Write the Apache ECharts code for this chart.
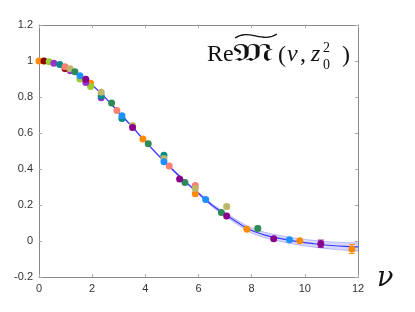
<!DOCTYPE html>
<html><head><meta charset="utf-8">
<script src="https://cdn.jsdelivr.net/npm/echarts@6/dist/echarts.min.js"></script>
<style>html,body{margin:0;padding:0;background:#fff}#c{width:415px;height:312px}</style>
</head><body><div id="c"></div>
<script>
// Fit curve (central) and band half-width
const curveNu = [0,0.5,1,1.5,2,2.5,3,3.5,4,4.5,5,5.5,6,6.5,7,7.5,8,8.5,9,9.5,10,10.5,11,11.5,12];
const curveVal = [1.0,0.99,0.962,0.92,0.866,0.795,0.715,0.635,0.553,0.474,0.4,0.33,0.265,0.2,0.148,0.1,0.058,0.033,0.016,0.002,-0.009,-0.018,-0.025,-0.03,-0.033];
const curveErr = [0,0.001,0.002,0.002,0.003,0.003,0.003,0.004,0.004,0.004,0.005,0.005,0.006,0.008,0.01,0.012,0.014,0.015,0.016,0.017,0.018,0.019,0.02,0.021,0.022];

// Data points per colour group: [nu, value, error]
const orange = [[0,1.0,0.003],[1.94,0.876,0.004],[3.91,0.566,0.004],[5.88,0.263,0.005],[7.82,0.065,0.008],[9.81,0.002,0.01],[11.77,-0.045,0.025]];
const darkred = [[0.19,1.0,0.002],[0.98,0.959,0.003]];
const yellowgreen = [[0.38,0.996,0.002],[1.54,0.90,0.004],[1.94,0.859,0.004]];
const violet = [[0.56,0.987,0.002],[1.18,0.946,0.003],[1.76,0.88,0.004],[2.34,0.796,0.004]];
const teal = [[0.78,0.981,0.003],[2.34,0.805,0.004],[3.12,0.681,0.005],[4.70,0.477,0.006]];
const salmon = [[0.98,0.968,0.003],[2.93,0.725,0.004],[4.90,0.417,0.005],[5.88,0.308,0.007]];
const khaki = [[1.17,0.957,0.003],[2.34,0.826,0.004],[3.52,0.642,0.005],[4.70,0.458,0.006],[5.88,0.291,0.008],[7.06,0.191,0.012]];
const seagreen = [[1.35,0.94,0.003],[2.73,0.766,0.004],[4.11,0.54,0.005],[5.49,0.325,0.006],[6.86,0.158,0.007],[8.23,0.07,0.012]];
const dodger = [[1.54,0.918,0.003],[3.12,0.696,0.005],[4.70,0.44,0.006],[6.27,0.23,0.006],[9.42,0.007,0.01]];
const magenta = [[1.76,0.898,0.004],[3.52,0.631,0.005],[5.29,0.345,0.006],[7.06,0.139,0.008],[8.83,0.013,0.008],[10.6,-0.015,0.02]];

const xTicks = [0,2,4,6,8,10,12];
const yTicks = [-0.2,0,0.2,0.4,0.6,0.8,1,1.2];

const groups = [
  [orange,'#ff8c00'],[darkred,'#8b0000'],[yellowgreen,'#9acd32'],[violet,'#9932cc'],
  [teal,'#008b8b'],[salmon,'#fa8072'],[khaki,'#bdb76b'],[seagreen,'#2e8b57'],
  [dodger,'#1e90ff'],[magenta,'#8b008b']
];

const chart = echarts.init(document.getElementById('c'), null, {renderer:'canvas'});

const series = [];
series.push({
  type:'custom', xAxisIndex:0, yAxisIndex:0, silent:true, z:1,
  data:[0],
  renderItem:function(params, api){
    const up=[], lo=[];
    for(let i=0;i<curveNu.length;i++){
      up.push(api.coord([curveNu[i], curveVal[i]+curveErr[i]]));
      lo.push(api.coord([curveNu[i], curveVal[i]-curveErr[i]]));
    }
    const poly = up.concat(lo.slice().reverse());
    return {type:'group', children:[
      {type:'polygon', shape:{points:poly, smooth:0.3}, style:{fill:'rgba(120,120,255,0.28)', stroke:null}},
      {type:'polyline', shape:{points:up, smooth:0.3}, style:{stroke:'rgba(110,110,255,0.5)', lineWidth:0.8, fill:null}},
      {type:'polyline', shape:{points:lo, smooth:0.3}, style:{stroke:'rgba(110,110,255,0.5)', lineWidth:0.8, fill:null}}
    ]};
  }
});
series.push({
  type:'line', data:curveNu.map((v,i)=>[v,curveVal[i]]), smooth:0.3, showSymbol:false,
  lineStyle:{color:'#3a3aff', width:1.2}, z:2, silent:true
});
groups.forEach(([arr,col])=>{
  series.push({
    type:'custom', z:3, silent:true,
    data:arr,
    renderItem:function(params, api){
      const x=api.value(0), y=api.value(1), e=api.value(2);
      const p1=api.coord([x,y+e]), p2=api.coord([x,y-e]);
      if(Math.abs(p1[1]-p2[1])<4) return {type:'group',children:[]};
      return {type:'group', children:[
        {type:'line', shape:{x1:p1[0],y1:p1[1],x2:p2[0],y2:p2[1]}, style:{stroke:col,lineWidth:1}},
        {type:'line', shape:{x1:p1[0]-3,y1:p1[1],x2:p1[0]+3,y2:p1[1]}, style:{stroke:col,lineWidth:1}},
        {type:'line', shape:{x1:p2[0]-3,y1:p2[1],x2:p2[0]+3,y2:p2[1]}, style:{stroke:col,lineWidth:1}}
      ]};
    }
  });
  series.push({
    type:'scatter', data:arr.map(d=>[d[0],d[1]]), symbol:'circle', symbolSize:7,
    itemStyle:{color:col, opacity:1}, z:4, silent:true
  });
});

const axisCommon = {
  axisLine:{onZero:false, lineStyle:{color:'#888', width:1}},
  axisTick:{inside:true, length:3, lineStyle:{color:'#aaa'}},
  splitLine:{show:false}
};

const T = '#111';
const serif = '"Liberation Serif", "DejaVu Serif", serif';
function txt(s, x, y, font, sx){ return {type:'text', x:x, y:y, scaleX:sx||1, style:{text:s, font:font, fill:T, verticalAlign:'bottom'}}; }

chart.setOption({
  animation:false,
  grid:{left:39, right:57, top:25, bottom:35},
  xAxis:[
    Object.assign({type:'value', min:0, max:12, interval:2, position:'bottom',
      axisLabel:{color:'#333', fontSize:11, fontFamily:'Liberation Sans, Arial', margin:6}}, axisCommon),
    Object.assign({type:'value', min:0, max:12, interval:2, position:'top',
      axisLabel:{show:false}}, axisCommon)
  ],
  yAxis:[
    Object.assign({type:'value', min:-0.2, max:1.2, interval:0.2, position:'left',
      axisLabel:{color:'#333', fontSize:11, fontFamily:'Liberation Sans, Arial', margin:6,
        formatter:v=>String(Math.round(v*10)/10)}}, axisCommon),
    Object.assign({type:'value', min:-0.2, max:1.2, interval:0.2, position:'right',
      axisLabel:{show:false}}, axisCommon)
  ],
  graphic:[
    {type:'text', x:377, y:292, style:{text:'ν', font:'italic 27px "DejaVu Serif", serif', fill:T, verticalAlign:'bottom'}},
    txt('Re', 207, 67, '24px '+serif),
    txt('\uD835\uDD10', 233, 67, '25px "DejaVu Sans", "DejaVu Serif", serif', 1.75),
    {type:'bezierCurve', shape:{x1:235,y1:38,cpx1:249,cpy1:28,cpx2:262,cpy2:44,x2:277,y2:34}, style:{stroke:T, lineWidth:1.3, fill:null}},
    txt('(', 278, 68, '24px '+serif),
    txt('ν', 287, 67, 'italic 24px '+serif),
    txt(',', 300, 67, '24px '+serif),
    txt('z', 311, 67, 'italic 24px '+serif),
    txt('2', 323, 55, '14px '+serif),
    txt('0', 323, 72, '14px '+serif),
    txt(')', 342, 68, '24px '+serif)
  ],
  series:series
});
</script></body></html>
